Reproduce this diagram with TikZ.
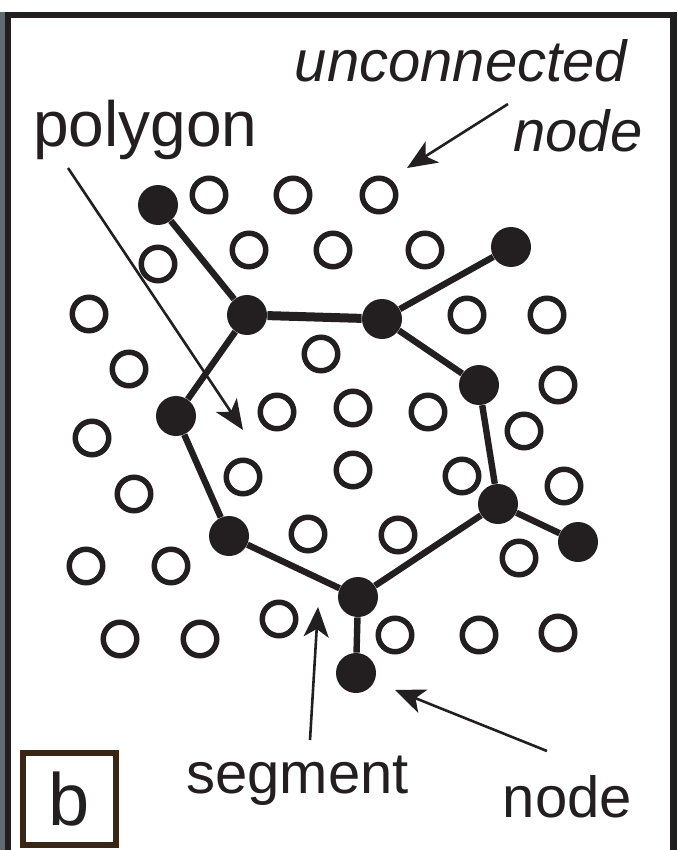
\documentclass[tikz,border=0pt]{standalone}
\usepackage{fontspec}
\setmainfont{Liberation Sans}
\usetikzlibrary{arrows.meta}
\definecolor{ink}{RGB}{35,31,32}
\definecolor{boxbrown}{RGB}{58,38,20}
\definecolor{photo}{RGB}{96,108,114}

\begin{document}
\begin{tikzpicture}[
  x=0.5pt, y=-0.5pt,
  >={Stealth[length=15pt,width=12.5pt,inset=4pt]},
  every node/.style={font={\fontsize{29}{34}\selectfont}},
  hub/.style={circle, fill=ink, inner sep=0pt, minimum size=20pt},
  site/.style={circle, draw=ink, line width=2.75pt, inner sep=0pt, minimum size=16.75pt},
  seg/.style={draw=ink, line width=3.2pt},
  ptr/.style={->, draw=ink, line width=1.3pt},
  lbl/.style={anchor=base, inner sep=0pt, text=ink}
]
\useasboundingbox (0,0) rectangle (677,850);
\fill[photo] (0,12) rectangle (5,850);
\draw[ink, line width=3.3pt] (8,850) -- (8,15) -- (673.5,15) -- (673.5,850);

\node[hub] (d1) at (158,205) {};
\node[hub] (d2) at (511,247) {};
\node[hub] (v1) at (247,315) {};
\node[hub] (v2) at (382,319) {};
\node[hub] (v3) at (479,385) {};
\node[hub] (v4) at (498,504) {};
\node[hub] (v5) at (358,597) {};
\node[hub] (v6) at (229,536) {};
\node[hub] (v7) at (176,416) {};
\node[hub] (d3) at (578,542) {};
\node[hub] (d4) at (356,673) {};

\draw[seg] (d1) -- (v1);
\draw[seg, line width=4.5pt] (v1) -- (v2);
\draw[seg] (v2) -- (d2);
\draw[seg] (v2) -- (v3);
\draw[seg] (v3) -- (v4);
\draw[seg] (v4) -- (d3);
\draw[seg] (v4) -- (v5);
\draw[seg] (v5) -- (d4);
\draw[seg] (v5) -- (v6);
\draw[seg] (v6) -- (v7);
\draw[seg] (v7) -- (v1);

\foreach \x/\y [count=\n] in {209/195, 293/195, 379/195, 158/264, 249/250,
    333/250, 425/250, 89/314, 467/315, 547/315, 129/369, 321/354, 558/385,
    92/438, 277/412, 353/408, 428/412, 524/431, 134/494, 243/477, 353/470,
    462/476, 564/486, 308/534, 398/535, 86/566, 171/566, 519/558, 120/639,
    200/639, 279/619, 395/635, 479/635, 558/633}
  \node[site] (o\n) at (\x,\y) {};

\node[lbl, font={\fontsize{32}{38}\selectfont}] (polygon) at (145.5,147) {polygon};
\node[lbl, font={\fontsize{29}{34}\selectfont\itshape}] (unconn) at (461,82) {unconnected};
\node[lbl, font={\fontsize{29}{34}\selectfont\itshape}] (unnode) at (578,152) {node};
\node[lbl] (segment) at (297.5,793) {segment};
\node[lbl] (nodelbl) at (567.5,817) {node};
\node[draw=boxbrown, line width=3pt, minimum width=46.5pt, minimum height=46pt,
  inner sep=0pt, text=ink, font={\fontsize{37}{42}\selectfont}] (panel) at (69.5,799) {b};

\coordinate (polytail) at (68,168);
\coordinate (polytip) at (243,430);
\coordinate (untail) at (508,104);
\coordinate (untip) at (407,168);
\coordinate (segtail) at (310,740);
\coordinate (segtip) at (318,607);
\coordinate (nodetail) at (547,751);
\coordinate (nodetip) at (395,690);
\draw[ptr] (polytail) -- (polytip);
\draw[ptr] (untail) -- (untip);
\draw[ptr] (segtail) -- (segtip);
\draw[ptr] (nodetail) -- (nodetip);
\end{tikzpicture}
\end{document}
